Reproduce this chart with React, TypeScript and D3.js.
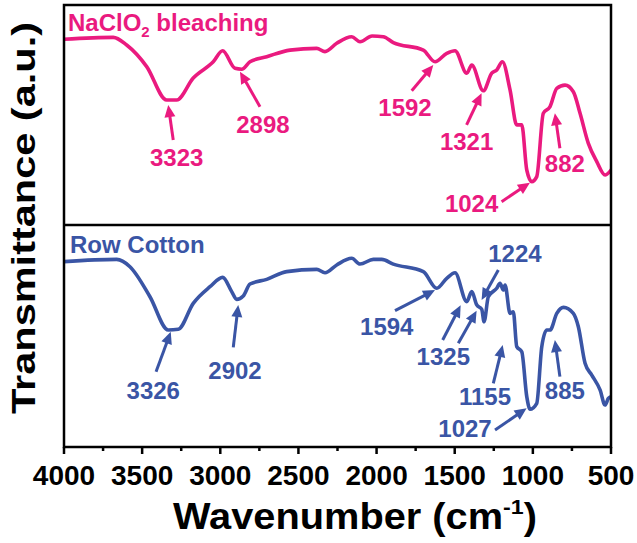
import * as d3 from "d3";

// FTIR spectra
const wnBleached = [4000, 3685, 3599, 3471, 3343, 3279, 3173, 3045, 2985, 2906, 2863, 2810, 2703, 2554, 2383, 2330, 2255, 2159, 2106, 2029, 1957, 1893, 1701, 1626, 1551, 1498, 1423, 1391, 1317, 1263, 1231, 1195, 1146, 1103, 1071, 1039, 1007, 975, 933, 890, 847, 794, 741, 698, 645, 591, 538, 500];
const tBleached = [84.4, 85.3, 81.8, 72.0, 56.8, 56.8, 66.8, 74.2, 79.2, 71.2, 70.8, 74.2, 76.5, 79.5, 80.3, 78.8, 82.6, 85.6, 83.3, 85.9, 85.6, 82.9, 79.5, 74.2, 78.0, 79.2, 69.0, 72.7, 61.0, 69.0, 70.5, 74.2, 61.4, 45.5, 45.5, 25.0, 19.7, 22.0, 50.8, 53.8, 62.1, 63.6, 60.6, 50.8, 37.1, 28.8, 22.7, 25.0];

const wnRaw = [4000, 3663, 3578, 3450, 3333, 3269, 3173, 3066, 2985, 2927, 2895, 2853, 2810, 2703, 2575, 2383, 2330, 2255, 2159, 2106, 2021, 1967, 1893, 1701, 1615, 1551, 1498, 1423, 1391, 1359, 1327, 1312, 1285, 1231, 1210, 1189, 1178, 1146, 1125, 1103, 1071, 1039, 1018, 975, 943, 911, 890, 847, 804, 741, 709, 666, 623, 570, 538, 517, 500];
const tRaw = [83.5, 84.5, 81.2, 67.7, 52.7, 53.0, 64.7, 72.2, 76.4, 70.0, 66.5, 68.0, 73.4, 75.5, 79.0, 80.0, 78.5, 82.0, 85.0, 82.4, 84.5, 84.5, 82.4, 79.0, 71.5, 76.0, 78.5, 65.5, 70.0, 64.0, 62.0, 56.4, 67.7, 71.5, 73.7, 70.7, 73.0, 60.2, 60.9, 45.2, 42.9, 22.7, 17.0, 19.7, 45.2, 52.7, 52.7, 60.2, 62.9, 60.2, 54.2, 37.7, 32.4, 25.7, 18.9, 21.9, 22.7];

const xTicks = [4000, 3500, 3000, 2500, 2000, 1500, 1000, 500];
const xMinorTicks = [3750, 3250, 2750, 2250, 1750, 1250, 750];

// peak labels: text position, arrow tail(s) and tip in (wavenumber, transmittance)
type Note = { label: string; text: [number, number]; arrows: [number, number, number, number][] };

const notesBleached: Note[] = [
  { label: "3323", text: [3279, 30.9], arrows: [[3301, 38.6, 3333, 54.5]] },
  { label: "2898", text: [2727, 45.9], arrows: [[2746, 53.8, 2874, 69.7]] },
  { label: "1592", text: [1818, 53.6], arrows: [[1775, 61.0, 1637, 72.7]] },
  { label: "1321", text: [1424, 37.9], arrows: [[1424, 45.5, 1328, 59.9]] },
  { label: "1024", text: [1392, 10.0], arrows: [[1200, 10.6, 1019, 19.2]] },
  { label: "882", text: [795, 28.2], arrows: [[827, 34.9, 859, 50.8]] },
];

const notesRaw: Note[] = [
  { label: "3326", text: [3429, 25.7], arrows: [[3411, 33.9, 3317, 51.9]] },
  { label: "2902", text: [2906, 34.7], arrows: [[2917, 44.9, 2885, 64.0]] },
  { label: "1594", text: [1935, 54.2], arrows: [[1882, 61.4, 1626, 70.7]] },
  { label: "1325", text: [1573, 40.7], arrows: [[1577, 48.2, 1462, 63.8], [1477, 46.7, 1360, 61.4]] },
  { label: "1224", text: [1115, 87.3], arrows: [[1221, 79.7, 1328, 66.2]] },
  { label: "1155", text: [1306, 22.7], arrows: [[1253, 28.7, 1193, 45.9]] },
  { label: "1027", text: [1434, 8.4], arrows: [[1242, 7.7, 1040, 17.4]] },
  { label: "885", text: [795, 25.7], arrows: [[827, 31.7, 859, 48.2]] },
];

const PINK = "#ea1a7f";
const BLUE = "#3a55a5";
const FONT = "'Liberation Sans', Arial, sans-serif";

const width = 637;
const height = 543;
const left = 64;
const right = 611;
const top = 5;
const mid = 225;
const bottom = 447;

const x = d3.scaleLinear().domain([4000, 500]).range([left, right]);
const yTop = d3.scaleLinear().domain([0, 100]).range([mid, top]);
const yBot = d3.scaleLinear().domain([0, 100]).range([bottom, mid]);

function Arrow({ x1, y1, x2, y2, color }: { x1: number; y1: number; x2: number; y2: number; color: string }) {
  const dx = x2 - x1;
  const dy = y2 - y1;
  const len = Math.hypot(dx, dy);
  const ux = dx / len;
  const uy = dy / len;
  const head = 12;
  const half = 5.5;
  const bx = x2 - ux * head;
  const by = y2 - uy * head;
  const pts = [
    [x2, y2],
    [bx - uy * half, by + ux * half],
    [bx + uy * half, by - ux * half],
  ];
  return (
    <g>
      <line x1={x1} y1={y1} x2={bx + ux * 2} y2={by + uy * 2} stroke={color} strokeWidth={3} />
      <polygon points={pts.map((p) => p.join(",")).join(" ")} fill={color} />
    </g>
  );
}

function Panel({ wn, t, notes, y, color }: { wn: number[]; t: number[]; notes: Note[]; y: d3.ScaleLinear<number, number>; color: string }) {
  const line = d3
    .line<number>()
    .x((d) => x(d))
    .y((_, i) => y(t[i]))
    .curve(d3.curveMonotoneX);
  return (
    <g>
      <path d={line(wn) || ""} fill="none" stroke={color} strokeWidth={3.6} strokeLinejoin="round" strokeLinecap="round" />
      {notes.map((n) => (
        <g key={n.label + n.text[0]}>
          {n.arrows.map((a, i) => (
            <Arrow key={i} x1={x(a[0])} y1={y(a[1])} x2={x(a[2])} y2={y(a[3])} color={color} />
          ))}
          <text x={x(n.text[0])} y={y(n.text[1])} dy="0.36em" textAnchor="middle" fill={color} fontSize={24} fontWeight="bold" fontFamily={FONT}>
            {n.label}
          </text>
        </g>
      ))}
    </g>
  );
}

export default function App() {
  return (
    <svg width={width} height={height} style={{ display: "block", position: "absolute", left: 0, top: 0, background: "#fff" }}>
      <defs>
        <clipPath id="plotClip">
          <rect x={left} y={top} width={right - left} height={bottom - top} />
        </clipPath>
      </defs>
      <g clipPath="url(#plotClip)">
        <Panel wn={wnBleached} t={tBleached} notes={notesBleached} y={yTop} color={PINK} />
        <Panel wn={wnRaw} t={tRaw} notes={notesRaw} y={yBot} color={BLUE} />
      </g>

      <text x={68} y={31} fill={PINK} fontSize={24} fontWeight="bold" fontFamily={FONT}>
        NaClO
        <tspan fontSize={15} dy={6}>2</tspan>
        <tspan dy={-6}> bleaching</tspan>
      </text>
      <text x={70} y={253} fill={BLUE} fontSize={24} fontWeight="bold" fontFamily={FONT}>
        Row Cotton
      </text>

      {/* frame */}
      <rect x={left} y={top} width={right - left} height={bottom - top} fill="none" stroke="#000" strokeWidth={2.5} />
      <line x1={left} x2={right} y1={mid} y2={mid} stroke="#000" strokeWidth={2.5} />

      {/* x axis ticks */}
      {xTicks.map((v) => (
        <g key={v}>
          <line x1={x(v)} x2={x(v)} y1={bottom} y2={bottom + 7} stroke="#000" strokeWidth={2.5} />
          <text x={x(v)} y={485} textAnchor="middle" fontSize={28} fontWeight="bold" fontFamily={FONT} fill="#000">
            {v}
          </text>
        </g>
      ))}
      {xMinorTicks.map((v) => (
        <line key={v} x1={x(v)} x2={x(v)} y1={bottom} y2={bottom + 4} stroke="#000" strokeWidth={2.5} />
      ))}

      <text x={355} y={529} textAnchor="middle" fontSize={36} fontWeight="bold" fontFamily={FONT} fill="#000" textLength={364} lengthAdjust="spacingAndGlyphs">
        Wavenumber (cm
        <tspan fontSize={21} dy={-15}>-1</tspan>
        <tspan dy={15}>)</tspan>
      </text>
      <text transform={`translate(35,${218}) rotate(-90)`} textAnchor="middle" fontSize={34} fontWeight="bold" fontFamily={FONT} fill="#000" textLength={392} lengthAdjust="spacingAndGlyphs">
        Transmittance (a.u.)
      </text>
    </svg>
  );
}
